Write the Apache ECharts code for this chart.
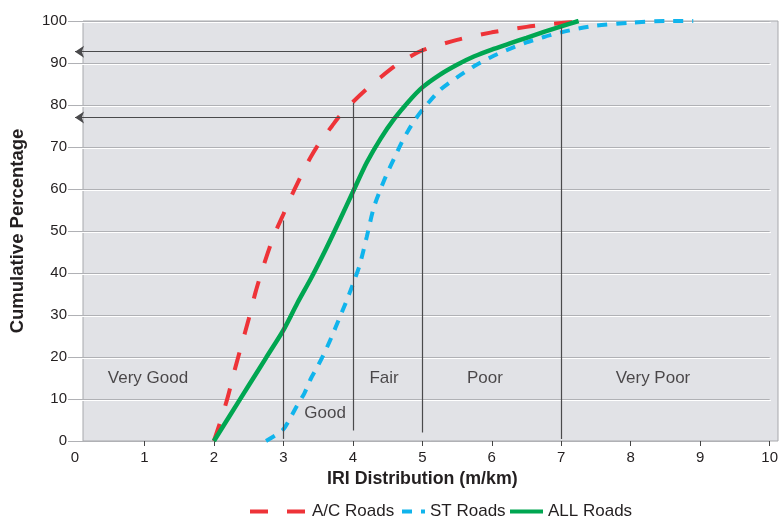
<!DOCTYPE html>
<html>
<head>
<meta charset="utf-8">
<script src="https://cdn.jsdelivr.net/npm/echarts@6/dist/echarts.min.js"></script>
<style>html,body{margin:0;padding:0;background:#fff}#c{width:781px;height:516px}</style>
</head>
<body>
<div id="c"></div>
<script>
// ---- data ----
const xTicks = [0,1,2,3,4,5,6,7,8,9,10];
const yTicks = [0,10,20,30,40,50,60,70,80,90,100];
const acRoads = [[2,0],[2.1,5],[2.2,10.5],[2.3,17],[2.4,23],[2.5,29],[2.6,35.5],[2.7,41],[2.8,46],[2.9,50.3],[3,54],[3.1,57.8],[3.2,61.3],[3.3,64.7],[3.4,67.8],[3.5,70.5],[3.6,72.8],[3.7,75],[3.8,77.2],[3.9,79],[4,80.7],[4.2,83.8],[4.4,86.6],[4.6,89.2],[4.8,91.3],[5,93],[5.5,95.5],[6,97.3],[6.5,98.6],[7,99.5],[7.3,100]];
const stRoads = [[2.75,0],[2.9,1.5],[3,2.8],[3.1,5.5],[3.2,8.5],[3.3,11.3],[3.4,15],[3.5,18],[3.6,21.3],[3.7,25],[3.8,29],[3.9,33],[4,37.3],[4.1,42],[4.2,48.6],[4.3,55.5],[4.4,60],[4.5,64],[4.6,67.5],[4.7,71],[4.8,74],[4.9,76.6],[5,78.8],[5.25,83.5],[5.5,86.6],[5.75,89.3],[6,91.5],[6.25,93.3],[6.5,94.9],[6.75,96.2],[7,97.3],[7.25,98.2],[7.5,98.9],[8,99.6],[8.5,100],[8.9,100]];
const allRoads = [[2,0],[2.25,6.6],[2.5,13.2],[2.75,19.8],[3,26.4],[3.2,32.8],[3.4,38.8],[3.6,45.3],[3.8,52.2],[4,59.3],[4.2,66.3],[4.4,72],[4.6,76.8],[4.8,80.8],[5,84.2],[5.25,87.2],[5.5,89.6],[5.75,91.6],[6,93.2],[6.25,94.6],[6.5,96],[6.75,97.4],[7,98.7],[7.25,100]];
// class boundaries: [x, bottom, top]
const boundaries = [[3,0.5,52.5],[4,2.5,80.5],[5,2,93.5],[7,0.5,98.5]];
// read-back arrows: [level, x where curve crosses]
const arrows = [[92.7,5],[77,4.9]];
// zone labels: [x, y, text]
const zones = [[1.05,15,'Very Good'],[3.6,6.6,'Good'],[4.45,15,'Fair'],[5.9,15,'Poor'],[8.32,15,'Very Poor']];

const FONT = "'Liberation Sans', Arial, sans-serif";
const TXT = '#231f20';
const chart = echarts.init(document.getElementById('c'), null, {renderer:'canvas'});

const markLines = [];
boundaries.forEach(b => markLines.push([{coord:[b[0],b[1]], symbol:'none'},{coord:[b[0],b[2]], symbol:'none'}]));
arrows.forEach(a => markLines.push([{coord:[0,a[0]], symbol:'arrow'},{coord:[a[1],a[0]], symbol:'none'}]));

const legendCommon = {top:498, itemHeight:12, itemGap:0,
  itemStyle:{opacity:0, borderWidth:0},
  lineStyle:{width:4},
  textStyle:{fontFamily:FONT, fontSize:17, color:TXT}};

chart.setOption({
  animation:false,
  textStyle:{fontFamily:FONT, color:TXT},
  graphic:[{type:'rect', z:-10, shape:{x:83, y:21, width:695, height:420},
    style:{fill:'#e1e2e6', stroke:'#a7a8ac', lineWidth:1}}],
  grid:[
    {left:75, right:10, top:21, bottom:75},
    {left:75, right:10, top:22, bottom:74}
  ],
  xAxis:[
    {type:'value', gridIndex:0, min:0, max:10, interval:1,
     name:'IRI Distribution (m/km)', nameLocation:'middle', nameGap:24,
     nameTextStyle:{fontFamily:FONT, fontSize:17.8, fontWeight:'bold', color:TXT},
     axisLine:{show:false},
     axisTick:{show:true, length:5, customValues:xTicks.slice(1), lineStyle:{color:'#444'}},
     axisLabel:{fontFamily:FONT, fontSize:15, color:TXT, margin:9},
     splitLine:{show:false}},
    {type:'value', gridIndex:1, min:0, max:10, interval:1, show:false}
  ],
  yAxis:[
    {type:'value', gridIndex:0, min:0, max:100, interval:10,
     name:'Cumulative Percentage', nameLocation:'middle', nameGap:48, nameRotate:90,
     nameTextStyle:{fontFamily:FONT, fontSize:18.5, fontWeight:'bold', color:TXT},
     axisLine:{show:false}, axisTick:{show:true, length:7, lineStyle:{color:'#b0b1b5'}},
     axisLabel:{fontFamily:FONT, fontSize:15, color:TXT, margin:8},
     splitLine:{show:true, lineStyle:{color:'#b0b1b5', width:1}}},
    {type:'value', gridIndex:1, min:0, max:100, interval:10,
     axisLine:{show:false}, axisTick:{show:false}, axisLabel:{show:false},
     splitLine:{show:true, lineStyle:{color:'#ffffff', width:1}}}
  ],
  legend:[
    Object.assign({data:['A/C Roads'], left:243, itemWidth:57}, legendCommon),
    Object.assign({data:['ST Roads'], left:395, itemWidth:23}, legendCommon),
    Object.assign({data:['ALL Roads'], left:503, itemWidth:33}, legendCommon)
  ],
  series:[
    {type:'line', name:'guides', xAxisIndex:0, yAxisIndex:0, data:[], silent:true,
     markLine:{silent:true, symbol:['none','none'], symbolSize:9, label:{show:false},
       lineStyle:{color:'#4a4a4c', width:1.2, type:'solid'}, emphasis:{disabled:true},
       data:markLines}},
    {type:'line', name:'A/C Roads', data:acRoads, smooth:0.25, symbol:'none', z:3,
     lineStyle:{color:'#ee3338', width:4, type:[18,19], cap:'butt'}, itemStyle:{color:'#ee3338'}},
    {type:'line', name:'ST Roads', data:stRoads, smooth:0.25, symbol:'none', z:3,
     lineStyle:{color:'#10b4ec', width:4, type:[10,9], cap:'butt'}, itemStyle:{color:'#10b4ec'}},
    {type:'line', name:'ALL Roads', data:allRoads, smooth:0.25, symbol:'none', z:4,
     lineStyle:{color:'#00a651', width:4.5, type:'solid'}, itemStyle:{color:'#00a651'}},
    {type:'scatter', name:'zones', symbolSize:0, silent:true,
     data:zones.map(z => ({value:[z[0],z[1]], name:z[2]})),
     label:{show:true, position:'inside', formatter:p => p.name,
       fontFamily:FONT, fontSize:17, color:TXT, textBorderWidth:0}}
  ]
});
</script>
</body>
</html>
